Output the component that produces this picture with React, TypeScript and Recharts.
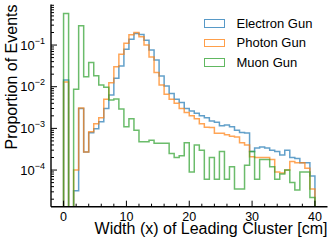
import React from 'react';
import { LineChart, Line, XAxis, YAxis, Legend } from 'recharts';

const FONT = '"Liberation Sans", Arial, Helvetica, sans-serif';

// Histogram bin left edges (bin width 0.8 cm) and the final right edge
const binStarts = [
  0, 0.8, 1.6, 2.4, 3.2, 4, 4.8, 5.6, 6.4, 7.2,
  8, 8.8, 9.6, 10.4, 11.2, 12, 12.8, 13.6, 14.4, 15.2,
  16, 16.8, 17.6, 18.4, 19.2, 20, 20.8, 21.6, 22.4, 23.2,
  24, 24.8, 25.6, 26.4, 27.2, 28, 28.8, 29.6, 30.4, 31.2,
  32, 32.8, 33.6, 34.4, 35.2, 36, 36.8, 37.6, 38.4, 39.2,
];
const binEnd = 40;

const electron = [
  0.0145, 0, 0.000032, 0.003, 0.00027, 0.00079, 0.00098, 0.00145, 0.003, 0.0063,
  0.016, 0.0315, 0.079, 0.137, 0.19, 0.18, 0.13, 0.076, 0.044, 0.018,
  0.0104, 0.0069, 0.005, 0.0042, 0.003, 0.0026, 0.0023, 0.002, 0.0018, 0.0015,
  0.0014, 0.00115, 0.0012, 0.0011, 0.0009, 0.0008, 0.00077, 0.00028, 0.00034, 0.00036,
  0.00034, 0.0003, 0.00028, 0.00023, 0.0003, 0.0002, 0.00019, 0.00015, 0.00015, 0.000072,
];
const photon = [
  0.013, 0, 0.0001, 0.0031, 0.00027, 0.00083, 0.0013, 0.0018, 0.005, 0.0125,
  0.03, 0.06, 0.11, 0.176, 0.2, 0.158, 0.1, 0.052, 0.022, 0.011,
  0.0066, 0.005, 0.004, 0.003, 0.0024, 0.002, 0.0017, 0.0013, 0.00107, 0.00105,
  0.00076, 0.00076, 0.0007, 0.00065, 0.00062, 0.00045, 0.0004, 0.00021, 0.0002, 0.0002,
  0.0002, 0.00018, 0.00009, 0.000085, 0.0001, 0.00016, 0.00015, 0.00015, 0.00011, 0.000035,
];
const muon = [
  0.575, 0, 0.0087, 0.29, 0.0174, 0.038, 0.0184, 0.011, 0.0097, 0.0048,
  0.0051, 0.0029, 0.0011, 0.0017, 0.0009, 0.00048, 0.00048, 0.00052, 0.00044, 0.00044,
  0.00044, 0.00025, 0.0002, 0.00022, 0.00045, 0.00009, 0.0004, 0.0003, 0.00006, 0.0002,
  0.00006, 0.00028, 0.00006, 0.00012, 0.000035, 0.000035, 0.00013, 0.00028, 0.00006, 0.00018,
  0.00018, 0.00012, 0.00006, 0.00008, 0.0001, 0.00005, 0.000033, 0.00009, 0.00009, 0.000022,
];

const seriesNames = ['Electron Gun', 'Photon Gun', 'Muon Gun'];
const seriesColors = ['#1f77b4', '#ff7f0e', '#2ca02c'];

const xMajorTicks = [0, 10, 20, 30, 40];
const xAllTicks = [0, 2, 4, 6, 8, 10, 12, 14, 16, 18, 20, 22, 24, 26, 28, 30, 32, 34, 36, 38, 40];
const yMajorTicks = [1e-4, 1e-3, 1e-2, 1e-1];
const yMajorLabels = ['−4', '−3', '−2', '−1'];
const yAllTicks = [
  2e-5, 3e-5, 4e-5, 5e-5, 6e-5, 7e-5, 8e-5, 9e-5,
  1e-4, 2e-4, 3e-4, 4e-4, 5e-4, 6e-4, 7e-4, 8e-4, 9e-4,
  1e-3, 2e-3, 3e-3, 4e-3, 5e-3, 6e-3, 7e-3, 8e-3, 9e-3,
  1e-2, 2e-2, 3e-2, 4e-2, 5e-2, 6e-2, 7e-2, 8e-2, 9e-2,
  1e-1, 2e-1, 3e-1, 4e-1, 5e-1, 6e-1, 7e-1, 8e-1, 9e-1,
];
const xDomain = [-2, 42];
const yDomain = [1.32e-5, 0.94];

// empty bins are drawn down to (below) the bottom of the log axis
const FLOOR = 1e-8;
const pos = (v: number) => (v > 0 ? v : FLOOR);

const data = [
  { x: binStarts[0], e: FLOOR, p: FLOOR, m: FLOOR },
  ...binStarts.map((x, i) => ({ x, e: pos(electron[i]), p: pos(photon[i]), m: pos(muon[i]) })),
  { x: binEnd, e: FLOOR, p: FLOOR, m: FLOOR },
];

const BottomTick = (props: any) => {
  const { x, y, payload } = props;
  const major = xMajorTicks.includes(payload.value);
  return (
    <g>
      <line x1={x} x2={x} y1={y} y2={y - (major ? 6 : 3)} stroke="#000" strokeWidth={1} />
      {major && (
        <text x={x} y={y + 14} textAnchor="middle" fontSize={12.5} fontFamily={FONT} fill="#000">
          {payload.value}
        </text>
      )}
    </g>
  );
};

const TopTick = (props: any) => {
  const { x, y, payload } = props;
  const major = xMajorTicks.includes(payload.value);
  return <line x1={x} x2={x} y1={y} y2={y + (major ? 6 : 3)} stroke="#000" strokeWidth={1} />;
};

const LeftTick = (props: any) => {
  const { x, y, payload } = props;
  const idx = yMajorTicks.findIndex((t) => Math.abs(t - payload.value) / t < 1e-6);
  const major = idx >= 0;
  return (
    <g>
      <line x1={x} x2={x + (major ? 6 : 3)} y1={y} y2={y} stroke="#000" strokeWidth={1} />
      {major && (
        <text x={x - 6} y={y + 4.5} textAnchor="end" fontSize={13} fontFamily={FONT} fill="#000">
          10
          <tspan dy={-6} fontSize={9}>
            {yMajorLabels[idx]}
          </tspan>
        </text>
      )}
    </g>
  );
};

const RightTick = (props: any) => {
  const { x, y, payload } = props;
  const major = yMajorTicks.some((t) => Math.abs(t - payload.value) / t < 1e-6);
  return <line x1={x} x2={x - (major ? 6 : 3)} y1={y} y2={y} stroke="#000" strokeWidth={1} />;
};

const XLabel = (props: any) => {
  const vb = props.viewBox || {};
  return (
    <text x={vb.x + vb.width} y={vb.y + 27.5} textAnchor="end" fontSize={16} fontFamily={FONT} fill="#000">
      Width (x) of Leading Cluster [cm]
    </text>
  );
};

const YLabel = (props: any) => {
  const vb = props.viewBox || {};
  const cx = 16.5;
  const cy = vb.y;
  return (
    <text
      x={cx}
      y={cy}
      transform={`rotate(-90, ${cx}, ${cy})`}
      textAnchor="end"
      fontSize={16}
      fontFamily={FONT}
      fill="#000"
    >
      Proportion of Events
    </text>
  );
};

const LegendContent = (props: any) => {
  const payload = [...(props.payload || [])].sort(
    (a: any, b: any) => seriesNames.indexOf(a.value) - seriesNames.indexOf(b.value)
  );
  return (
    <div style={{ position: 'relative', width: 126, height: 60, fontFamily: FONT, fontSize: 13, color: '#000' }}>
      {payload.map((entry: any, i: number) => (
        <div
          key={entry.value}
          style={{ position: 'absolute', left: 0, top: i * 19.5, height: 19.5, display: 'flex', alignItems: 'center', whiteSpace: 'nowrap' }}
        >
          <span
            style={{
              display: 'inline-block',
              width: 21,
              height: 8.5,
              border: `1.3px solid ${entry.color}`,
              boxSizing: 'border-box',
              opacity: 0.75,
            }}
          />
          <span style={{ marginLeft: 11.5, lineHeight: '19.5px' }}>{entry.value}</span>
        </div>
      ))}
    </div>
  );
};

export default function App() {
  return (
    <div style={{ position: 'absolute', left: 0, top: 0, width: 332, height: 246, background: '#fff' }}>
      <LineChart width={332} height={246} data={data} margin={{ top: 4.5, right: 4.5, bottom: 0, left: 0 }}>
        <XAxis
          dataKey="x"
          type="number"
          domain={xDomain}
          allowDataOverflow
          ticks={xAllTicks}
          interval={0}
          tick={<BottomTick />}
          tickLine={false}
          tickSize={0}
          tickMargin={0}
          axisLine={{ stroke: '#000', strokeWidth: 1.4 }}
          height={39.3}
          label={<XLabel />}
        />
        <XAxis
          xAxisId="top"
          orientation="top"
          dataKey="x"
          type="number"
          domain={xDomain}
          allowDataOverflow
          ticks={xAllTicks}
          interval={0}
          tick={<TopTick />}
          tickLine={false}
          tickSize={0}
          tickMargin={0}
          axisLine={{ stroke: '#000', strokeWidth: 1.4 }}
          height={0}
        />
        <YAxis
          scale="log"
          type="number"
          domain={yDomain}
          allowDataOverflow
          ticks={yAllTicks}
          interval={0}
          tick={<LeftTick />}
          tickLine={false}
          tickSize={0}
          tickMargin={0}
          axisLine={{ stroke: '#000', strokeWidth: 1.4 }}
          width={51}
          label={<YLabel />}
        />
        <YAxis
          yAxisId="right"
          orientation="right"
          scale="log"
          type="number"
          domain={yDomain}
          allowDataOverflow
          ticks={yAllTicks}
          interval={0}
          tick={<RightTick />}
          tickLine={false}
          tickSize={0}
          tickMargin={0}
          axisLine={{ stroke: '#000', strokeWidth: 1.4 }}
          width={0}
        />
        <Line
          dataKey="e"
          name={seriesNames[0]}
          type="stepAfter"
          stroke={seriesColors[0]}
          strokeOpacity={0.7}
          strokeWidth={1.5}
          dot={false}
          activeDot={false}
          isAnimationActive={false}
        />
        <Line
          dataKey="p"
          name={seriesNames[1]}
          type="stepAfter"
          stroke={seriesColors[1]}
          strokeOpacity={0.7}
          strokeWidth={1.5}
          dot={false}
          activeDot={false}
          isAnimationActive={false}
        />
        <Line
          dataKey="m"
          name={seriesNames[2]}
          type="stepAfter"
          stroke={seriesColors[2]}
          strokeOpacity={0.7}
          strokeWidth={1.5}
          dot={false}
          activeDot={false}
          isAnimationActive={false}
        />
        <Legend
          layout="horizontal"
          align="center"
          verticalAlign="middle"
          wrapperStyle={{ left: 204, top: 13.5, width: 126, height: 60 }}
          content={<LegendContent />}
        />
      </LineChart>
    </div>
  );
}
